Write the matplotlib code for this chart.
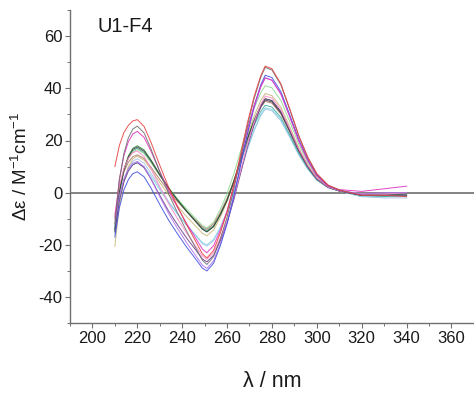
import matplotlib
matplotlib.use("Agg")
import matplotlib.pyplot as plt
from matplotlib.ticker import MultipleLocator

plt.rcParams['font.family'] = ['Liberation Sans', 'DejaVu Sans']
plt.rcParams['axes.unicode_minus'] = False
plt.rcParams['mathtext.fontset'] = 'custom'
plt.rcParams['mathtext.rm'] = 'Liberation Sans'
plt.rcParams['mathtext.default'] = 'regular'

wavelength = [210, 212, 214, 216, 218, 220, 223, 226, 230, 234, 238, 242, 246, 249, 251,
              254, 257, 260, 263, 266, 269, 272, 275, 277, 280, 284, 288, 292, 296, 300,
              305, 310, 320, 330, 340]

s_red = [10, 18.1, 23.0, 25.8, 27.5, 28, 25.4, 19.5, 10.5, 2.0, -5.4, -12.3, -18.6, -23.4, -25,
         -22.1, -15.4, -7.4, 2.9, 14.7, 26.5, 36.7, 44.8, 48.5, 47.5, 41.7, 32.0, 21.8, 13.6, 7.3,
         2.9, 1.0, -1, -1, -1.5]
s_gray = [-12, 4.9, 15.0, 21.0, 24.4, 25.5, 22.9, 17.0, 8.0, -0.5, -7.9, -14.8, -21.1, -25.9, -27.5,
          -24.5, -17.7, -9.4, 1.2, 13.3, 25.4, 35.9, 44.2, 48, 47.0, 41.3, 31.7, 21.6, 13.4, 7.2,
          2.9, 1.0, -1, -1, -1]
s_magenta = [-10, 5.1, 14.1, 19.5, 22.5, 23.5, 21.2, 16.1, 8.2, 0.7, -5.8, -11.8, -17.4, -21.6, -23,
             -20.3, -14.3, -6.9, 2.5, 13.2, 23.9, 33.3, 40.7, 44, 43.1, 37.8, 29.0, 19.8, 12.3, 6.6,
             2.6, 1.2, 0.5, 1.5, 2.5]
s_green = [-15, -0.2, 8.8, 14.0, 17.0, 18, 16.4, 12.7, 7.1, 1.8, -2.8, -7.1, -11.0, -14.0, -15,
           -13.0, -8.4, -2.8, 4.4, 12.5, 20.7, 27.8, 33.5, 36, 35.3, 31.0, 23.8, 16.2, 10.1, 5.4,
           2.2, 0.7, -1, -1, -0.5]
s_teal = [-14, 0, 8.3, 13.3, 16.1, 17, 15.4, 12.0, 6.6, 1.6, -2.8, -6.9, -10.7, -13.6, -14.5,
          -12.6, -8.3, -3.0, 3.7, 11.4, 19.1, 25.8, 31.1, 33.5, 32.8, 28.8, 22.1, 15.1, 9.4, 5.0,
          2.0, 0.7, -1, -1.5, -1]
s_tan = [-20.5, -5.0, 4.3, 9.9, 13.0, 14, 12.5, 9.1, 3.9, -0.9, -5.2, -9.2, -12.8, -15.6, -16.5,
         -14.3, -9.4, -3.4, 4.2, 12.9, 21.7, 29.3, 35.3, 38, 37.2, 32.7, 25.1, 17.1, 10.6, 5.7,
         2.3, 0.8, -0.5, -1, -1]
s_pink = [-8, 2.8, 9.3, 13.1, 15.3, 16, 13.9, 9.4, 2.3, -4.3, -10.1, -15.5, -20.5, -24.3, -25.5,
          -23.0, -17.4, -10.5, -1.8, 8.3, 18.3, 27.0, 33.9, 37, 36.3, 31.8, 24.4, 16.7, 10.4, 5.6,
          2.2, 0.7, -0.5, -0.5, 0]
s_lightblue = [-16, -3.0, 4.9, 9.5, 12.1, 13, 11.3, 7.6, 1.9, -3.4, -8.1, -12.5, -16.5, -19.5, -20.5,
               -18.4, -13.7, -7.9, -0.5, 7.9, 16.3, 23.6, 29.4, 32, 31.4, 27.5, 21.1, 14.4, 9.0, 4.8,
               1.9, 0.6, -1.5, -2, -2]
s_blue = [-17, -5.8, 1.0, 5.0, 7.3, 8, 6.1, 1.9, -4.5, -10.6, -15.9, -20.9, -25.4, -28.9, -30,
          -27.0, -20.3, -12.0, -1.5, 10.5, 22.5, 33.0, 41.3, 45, 44.1, 38.7, 29.7, 20.3, 12.6, 6.8,
          2.7, 0.9, -1, -1, -1]
s_violet = [-12, -1.2, 5.3, 9.1, 11.3, 12, 10.0, 5.4, -1.5, -8.1, -13.8, -19.2, -24.1, -27.8, -29,
            -26.1, -19.5, -11.5, -1.3, 10.4, 22.1, 32.3, 40.4, 44, 43.1, 37.8, 29.0, 19.8, 12.3, 6.6,
            2.6, 0.9, -0.5, 0, 0]
s_lightgreen = [-11, 1.4, 8.8, 13.2, 15.7, 16.5, 15.0, 11.7, 6.6, 1.8, -2.4, -6.3, -9.9, -12.6, -13.5,
                -11.3, -6.4, -0.4, 7.2, 15.9, 24.7, 32.3, 38.3, 41, 40.2, 35.3, 27.1, 18.5, 11.5, 6.2,
                2.5, 0.8, -1, -1, -1]
s_cyan = [-13, -2.0, 4.6, 8.6, 10.8, 11.5, 9.9, 6.5, 1.1, -3.9, -8.3, -12.4, -16.2, -19.1, -20,
          -17.9, -13.2, -7.4, 0, 8.4, 16.8, 24.1, 29.9, 32.5, 31.9, 28.0, 21.5, 14.6, 9.1, 4.9,
          2.0, 0.7, -1.5, -1.5, -1.5]
s_brown = [-9, 1.6, 7.9, 11.7, 13.8, 14.5, 13.1, 9.9, 5.1, 0.5, -3.5, -7.2, -10.6, -13.1, -14,
           -12.0, -7.6, -2.2, 4.6, 12.5, 20.3, 27.2, 32.6, 35, 34.3, 30.1, 23.1, 15.8, 9.8, 5.3,
           2.1, 0.7, -1, -1, -0.5]
s_navy = [-15, -3.1, 4.1, 8.3, 10.7, 11.5, 9.6, 5.4, -1.0, -7.1, -12.4, -17.4, -21.9, -25.4, -26.5,
          -24.0, -18.4, -11.5, -2.8, 7.3, 17.3, 26.0, 32.9, 36, 35.3, 31.0, 23.8, 16.2, 10.1, 5.4,
          2.2, 0.7, -1, -1, -1]
s_dark = [-14, 0.2, 8.7, 13.7, 16.6, 17.5, 15.9, 12.3, 6.8, 1.6, -3.0, -7.2, -11.1, -14.0, -15,
          -13.0, -8.4, -2.9, 4.2, 12.3, 20.4, 27.4, 33.0, 35.5, 34.8, 30.5, 23.4, 16.0, 9.9, 5.3,
          2.1, 0.7, -1, -1, -1]

series = [s_lightblue, s_cyan, s_teal, s_lightgreen, s_tan, s_brown, s_green, s_dark,
          s_navy, s_pink, s_violet, s_blue, s_magenta, s_gray, s_red]
colors = ['#a8c4ec', '#7fd4e0', '#40a8a0', '#90d890', '#c8b878', '#b07868', '#2e8b3a', '#404040',
          '#6a3e8a', '#ff88c8', '#b070f0', '#4050e0', '#e030c0', '#707070', '#e84040']

xticks = [200, 220, 240, 260, 280, 300, 320, 340, 360]
yticks = [-40, -20, 0, 20, 40, 60]

fig = plt.figure(figsize=(4.74, 4.0), dpi=100)
ax = fig.add_axes([0.1477, 0.192, 0.852, 0.783])

ax.axhline(0, color='#6e6e6e', lw=1.2, zorder=1)
for s, c in zip(series, colors):
    ax.plot(wavelength, s, color=c, lw=0.7, alpha=0.9, zorder=2)

ax.set_xlim(190, 370)
ax.set_ylim(-50, 70)
ax.set_xticks(xticks)
ax.set_yticks(yticks)
ax.xaxis.set_minor_locator(MultipleLocator(10))
ax.yaxis.set_minor_locator(MultipleLocator(10))
for sp in ['top', 'right']:
    ax.spines[sp].set_visible(False)
for sp in ['left', 'bottom']:
    ax.spines[sp].set_color('#707070')
    ax.spines[sp].set_linewidth(1.0)
ax.tick_params(which='major', direction='out', length=3.5, width=0.8, color='#707070',
               labelsize=12, labelcolor='#1a1a1a', pad=2)
ax.tick_params(which='minor', direction='out', length=2, width=0.7, color='#707070')

ax.set_xlabel('λ / nm', fontsize=15.5, labelpad=18, color='#1a1a1a')
ax.set_ylabel('Δε / M$^{-1}$cm$^{-1}$', fontsize=13.5, labelpad=5, color='#1a1a1a')
ax.text(0.067, 0.946, 'U1-F4', transform=ax.transAxes, fontsize=14.5, va='center', ha='left',
        color='#1a1a1a')

fig.savefig('out.png', dpi=100)
